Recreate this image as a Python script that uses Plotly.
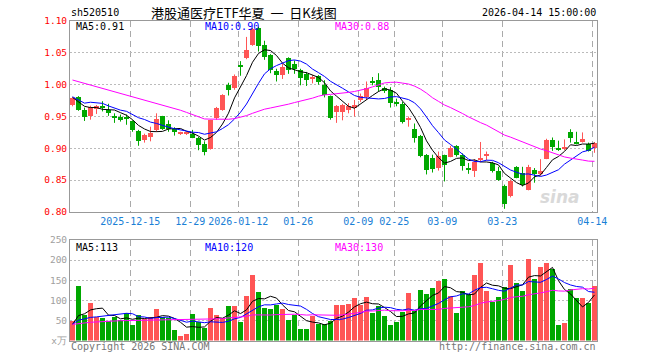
import plotly.graph_objects as go
import pandas as pd

# ---------------- data ----------------
tick_idx = [10, 20, 28, 38, 48, 54, 62, 72, 87]
tick_text = ["2025-12-15", "12-29", "2026-01-12", "01-26", "02-09",
             "02-25", "03-09", "03-23", "04-14"]

open_ = [0.968, 0.980, 0.961, 0.951, 0.962, 0.965, 0.961, 0.950, 0.950, 0.949,
         0.943, 0.927, 0.913, 0.918, 0.929, 0.951, 0.938, 0.931, 0.923, 0.923,
         0.923, 0.917, 0.907, 0.899, 0.947, 0.961, 0.999, 0.994, 1.030, 1.042,
         1.063, 1.089, 1.063, 1.047, 1.022, 1.015, 1.042, 1.032, 1.023, 1.017,
         1.009, 1.013, 1.000, 0.982, 0.957, 0.957, 0.961, 0.964, 0.976, 0.980,
         1.005, 1.008, 0.994, 0.992, 0.972, 0.970, 0.945, 0.931, 0.919, 0.890,
         0.885, 0.869, 0.890, 0.887, 0.903, 0.890, 0.869, 0.865, 0.881, 0.889,
         0.877, 0.865, 0.841, 0.825, 0.871, 0.862, 0.835, 0.866, 0.860, 0.884,
         0.913, 0.901, 0.899, 0.926, 0.908, 0.910, 0.907, 0.900]
high = [0.980, 0.982, 0.964, 0.967, 0.968, 0.974, 0.970, 0.955, 0.953, 0.953,
        0.944, 0.929, 0.923, 0.934, 0.955, 0.951, 0.944, 0.933, 0.926, 0.925,
        0.929, 0.918, 0.911, 0.945, 0.965, 0.985, 1.003, 1.016, 1.037, 1.075,
        1.089, 1.091, 1.069, 1.048, 1.025, 1.033, 1.043, 1.038, 1.025, 1.020,
        1.015, 1.015, 1.007, 0.983, 0.968, 0.970, 0.971, 0.976, 0.986, 1.005,
        1.012, 1.018, 0.997, 0.996, 0.978, 0.973, 0.950, 0.939, 0.921, 0.891,
        0.890, 0.895, 0.890, 0.904, 0.905, 0.892, 0.877, 0.883, 0.910, 0.895,
        0.879, 0.871, 0.843, 0.851, 0.872, 0.871, 0.874, 0.869, 0.883, 0.915,
        0.917, 0.912, 0.914, 0.930, 0.926, 0.925, 0.909, 0.910]
low = [0.966, 0.959, 0.943, 0.945, 0.954, 0.958, 0.951, 0.940, 0.942, 0.937,
       0.926, 0.904, 0.909, 0.911, 0.926, 0.929, 0.926, 0.920, 0.921, 0.921,
       0.916, 0.897, 0.889, 0.898, 0.945, 0.959, 0.983, 0.992, 1.014, 1.040,
       1.061, 1.052, 1.039, 1.018, 1.005, 1.009, 1.017, 1.017, 0.999, 0.998,
       1.002, 1.000, 0.980, 0.945, 0.940, 0.944, 0.955, 0.950, 0.973, 0.976,
       0.999, 0.989, 0.987, 0.964, 0.966, 0.939, 0.934, 0.909, 0.886, 0.859,
       0.862, 0.865, 0.848, 0.886, 0.887, 0.865, 0.860, 0.855, 0.879, 0.881,
       0.862, 0.849, 0.805, 0.823, 0.853, 0.840, 0.834, 0.846, 0.857, 0.883,
       0.896, 0.896, 0.897, 0.909, 0.906, 0.909, 0.895, 0.893]
close = [0.979, 0.961, 0.949, 0.965, 0.967, 0.964, 0.956, 0.949, 0.944, 0.947,
         0.929, 0.911, 0.921, 0.924, 0.946, 0.931, 0.930, 0.925, 0.924, 0.924,
         0.917, 0.906, 0.894, 0.944, 0.964, 0.983, 0.991, 1.014, 1.029, 1.054,
         1.088, 1.060, 1.043, 1.023, 1.015, 1.028, 1.023, 1.025, 1.011, 1.007,
         1.010, 1.004, 0.983, 0.947, 0.966, 0.968, 0.966, 0.968, 0.982, 0.995,
         1.004, 0.997, 0.990, 0.971, 0.971, 0.942, 0.946, 0.917, 0.888, 0.866,
         0.868, 0.888, 0.874, 0.901, 0.890, 0.872, 0.867, 0.879, 0.885, 0.890,
         0.865, 0.851, 0.812, 0.849, 0.854, 0.842, 0.871, 0.860, 0.864, 0.913,
         0.902, 0.897, 0.900, 0.916, 0.907, 0.914, 0.896, 0.908]
volume = [48, 135, 62.5, 92.5, 57.5, 55, 48, 58, 51, 69,
          37.5, 62.5, 54, 57.5, 77.5, 58, 56, 25, 10, 17,
          65, 47, 30, 80, 64, 56, 85, 85, 45, 110,
          162.5, 120, 80, 77.5, 88, 77.5, 50, 64, 27.5, 27.5,
          60, 40, 40, 48, 87.5, 87.5, 90, 105, 87.5, 107.5,
          67.5, 87, 61, 37.5, 45, 70, 117.5, 72.5, 125, 115,
          131, 147.5, 152.5, 110, 67.5, 122.5, 115, 162.5, 192.5, 122.5,
          95, 107.5, 132.5, 187.5, 142.5, 122.5, 202.5, 152.5, 182.5, 192.5,
          179, 37.5, 42.5, 127.5, 105, 105, 94, 135]
# sessions before the visible window (needed for the moving averages)
pre_close = [1.039, 1.027, 1.043, 1.045, 1.042, 1.034, 1.027, 1.022, 1.025, 1.007,
             0.989, 0.999, 1.002, 1.024, 1.009, 1.008, 1.003, 1.024, 1.024, 1.017,
             1.010, 1.000, 0.951, 0.975, 0.974, 0.996, 0.984, 0.975, 0.966]
pre_volume = [60, 30, 40, 25, 20, 15, 50, 42, 60, 30,
              55, 45, 50, 68, 50, 48, 20, 12, 15, 55,
              40, 30, 55, 45, 40, 25, 40, 45, 42]

# ---------------- helpers ----------------
W, H = 660, 360
RED, GREEN = "#ff5555", "#00a800"
MONO = "DejaVu Sans Mono"


def ma(pre, vals, n):
    s = pd.Series(list(pre) + list(vals), dtype=float)
    return s.rolling(n).mean().iloc[len(pre):].tolist()


def px(x):
    return x / W


def py(y):
    return 1 - y / H


n = len(close)
idx = list(range(n))
up = [c >= o for o, c in zip(open_, close)]
colors = [RED if u else GREEN for u in up]
body_base = [min(o, c) for o, c in zip(open_, close)]
body_h = [max(abs(c - o), 0.0016) for o, c in zip(open_, close)]

fig = go.Figure()

# wicks
for flag, col in ((True, RED), (False, GREEN)):
    wx, wy = [], []
    for i in idx:
        if up[i] == flag:
            wx += [i, i, None]
            wy += [low[i], high[i], None]
    fig.add_trace(go.Scatter(x=wx, y=wy, mode="lines", line=dict(color=col, width=1),
                             hoverinfo="skip", xaxis="x", yaxis="y"))

# bodies
fig.add_trace(go.Bar(x=idx, y=body_h, base=body_base, width=0.84,
                     marker=dict(color=colors, line=dict(width=0)),
                     xaxis="x", yaxis="y"))

# price MAs
for n_, col in ((5, "#000000"), (10, "#0000ff"), (30, "#ff00ff")):
    fig.add_trace(go.Scatter(x=idx, y=ma(pre_close, close, n_), mode="lines",
                             line=dict(color=col, width=1), xaxis="x", yaxis="y"))

# volume bars
fig.add_trace(go.Bar(x=idx, y=volume, width=0.84,
                     marker=dict(color=colors, line=dict(width=0)),
                     xaxis="x2", yaxis="y2"))
for n_, col in ((5, "#000000"), (10, "#0000ff"), (30, "#ff00ff")):
    fig.add_trace(go.Scatter(x=idx, y=ma(pre_volume, volume, n_), mode="lines",
                             line=dict(color=col, width=1), xaxis="x2", yaxis="y2"))

xr = [-0.4167, n - 1 + 0.4167]
grid_x = [t - 0.37 for t in tick_idx]
xcommon = dict(domain=[px(70), px(597)], range=xr, showgrid=True, gridcolor="#aaaaaa",
               griddash="6px,4px", gridwidth=1, showline=True, mirror=True,
               linecolor="#999999", linewidth=1, zeroline=False, ticks="",
               tickvals=grid_x, automargin=False, fixedrange=True)

fig.update_layout(
    width=W, height=H, margin=dict(l=0, r=0, t=0, b=0), template="none",
    paper_bgcolor="white", plot_bgcolor="white", showlegend=False,
    barmode="overlay", bargap=0, hovermode=False,
    xaxis=dict(xcommon, anchor="y", ticktext=tick_text, tickangle=0,
               tickfont=dict(family=MONO, size=10, color="#1a80d6")),
    xaxis2=dict(xcommon, anchor="y2", showticklabels=False),
    yaxis=dict(domain=[py(212), py(21)], range=[0.80, 1.10],
               tickvals=[0.80, 0.85, 0.90, 0.95, 1.00, 1.05, 1.10],
               ticktext=["0.80", "0.85", "0.90", "0.95", "1.00", "1.05", "1.10"],
               tickfont=dict(family=MONO, size=9.5, color="#ff0000"),
               showgrid=True, gridcolor="#bbbbbb", griddash="2px,2px",
               showline=True, mirror=True, linecolor="#999999", zeroline=False,
               ticks="", ticklabelstandoff=0, automargin=False, fixedrange=True),
    yaxis2=dict(domain=[py(340.5), py(240)], range=[0, 250],
                tickvals=[0, 50, 100, 150, 200, 250],
                ticktext=["x万", "50", "100", "150", "200", "250"],
                tickfont=dict(family=MONO, size=9.5, color="#a0a0a0"),
                showgrid=True, gridcolor="#bbbbbb", griddash="2px,2px",
                showline=True, mirror=True, linecolor="#999999", zeroline=False,
                ticks="", ticklabelstandoff=0, automargin=False, fixedrange=True),
)


def note(text, x, y, color="#000000", anchor="left", size=10, family=MONO):
    fig.add_annotation(text=text, x=px(x), y=py(y), xref="paper", yref="paper",
                       xanchor=anchor, yanchor="middle", showarrow=False,
                       font=dict(family=family, size=size, color=color))


note("sh520510", 69, 12.5)
note("港股通医疗ETF华夏  一  日K线图", 149, 12.5, size=13,
     family="Noto Sans CJK SC")
note("2026-04-14 15:00:00", 598, 12.5, anchor="right")

m5, m10, m30 = (ma(pre_close, close, k)[-1] for k in (5, 10, 30))
note(f"MA5:{m5:.2f}", 74, 26.5)
note(f"MA10:{m10:.2f}", 203, 26.5, color="#0000ff")
note(f"MA30:{m30:.2f}", 333, 26.5, color="#ff00ff")

v5, v10, v30 = (ma(pre_volume, volume, k)[-1] for k in (5, 10, 30))
note(f"MA5:{v5:.0f}", 74, 247)
note(f"MA10:{v10:.0f}", 203, 247, color="#0000ff")
note(f"MA30:{v30:.0f}", 333, 247, color="#ff00ff")

note("Copyright 2026 SINA.COM", 69, 346, color="#777777")
note("http://finance.sina.com.cn", 598, 346, color="#777777", anchor="right")

fig.add_annotation(text="<b><i>sina</i></b>", x=px(582), y=py(197), xref="paper",
                   yref="paper", showarrow=False,
                   font=dict(family="DejaVu Sans", size=17, color="#d9d9d9"))

fig.write_html("out.html", config={"displayModeBar": False},
               post_script="document.body.style.margin='0';"
                           "document.body.style.overflow='hidden';")
